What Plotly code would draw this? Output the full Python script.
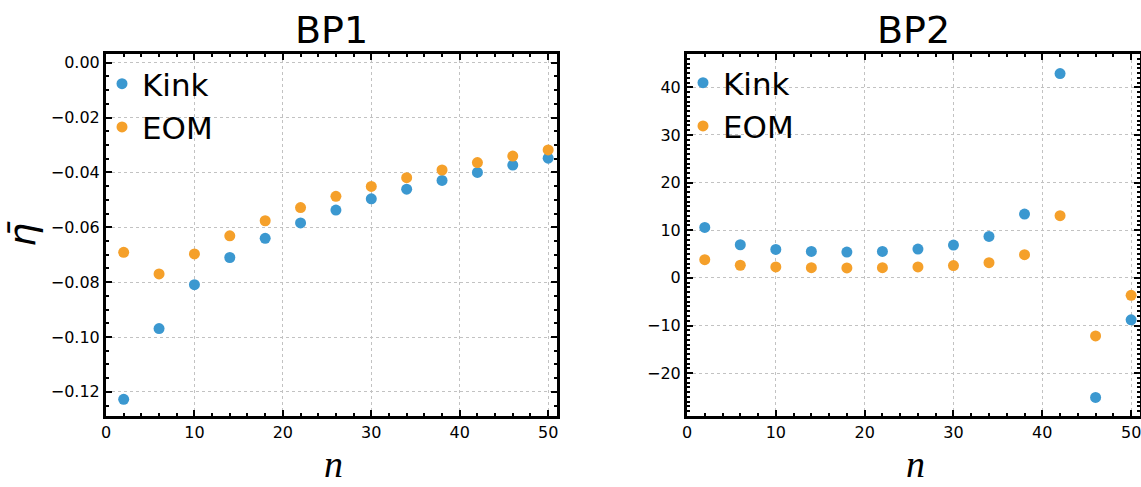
import plotly.graph_objects as go

W, H = 1141, 487

n_vals = [2, 6, 10, 14, 18, 22, 26, 30, 34, 38, 42, 46, 50]

bp1_kink = [-0.1227, -0.0969, -0.0809, -0.0710, -0.0640, -0.0584, -0.0537,
            -0.0496, -0.0461, -0.0429, -0.0400, -0.0373, -0.0348]
bp1_eom = [-0.0691, -0.0770, -0.0697, -0.0631, -0.0576, -0.0528, -0.0487,
           -0.0451, -0.0419, -0.0391, -0.0364, -0.0340, -0.0318]

bp2_kink = [10.6, 6.95, 5.98, 5.56, 5.42, 5.56, 6.04, 6.88, 8.69, 13.4, 42.9, -25.1, -8.8]
bp2_eom = [3.83, 2.65, 2.29, 2.15, 2.08, 2.15, 2.29, 2.58, 3.2, 4.86, 13.06, -12.2, -3.67]

titles = ["BP1", "BP2"]
series_names = ["Kink", "EOM"]
colors = ["#3b98d0", "#f5a02a"]

def px_x(p):
    return p / W

def px_y(p):
    return 1 - p / H

fig = go.Figure()

panels = [
    dict(kink=bp1_kink, eom=bp1_eom, xa="x", ya="y", legend="legend"),
    dict(kink=bp2_kink, eom=bp2_eom, xa="x2", ya="y2", legend="legend2"),
]
for i, p in enumerate(panels):
    for name, vals, col in [(series_names[0], p["kink"], colors[0]),
                            (series_names[1], p["eom"], colors[1])]:
        fig.add_trace(go.Scatter(
            x=n_vals, y=vals, mode="markers", name=name,
            marker=dict(size=11, color=col, line=dict(width=0)),
            xaxis=p["xa"], yaxis=p["ya"], legend=p["legend"],
        ))

tickfont = dict(family="DejaVu Sans", size=16, color="black")

def axis_common(dtick, minor_dtick, rng, domain, anchor, fmt=None):
    d = dict(
        range=rng, domain=domain, anchor=anchor,
        showline=True, linecolor="black", linewidth=3, mirror="allticks",
        ticks="inside", ticklen=6, tickwidth=2, tickcolor="black",
        dtick=dtick, tick0=0,
        minor=dict(dtick=minor_dtick, tick0=0, ticks="inside", ticklen=3,
                   tickwidth=2, tickcolor="black", showgrid=False),
        showgrid=True, gridcolor="#c2c2c2", gridwidth=1, griddash="dot",
        zeroline=False, tickfont=tickfont, automargin=False,
        ticklabeloverflow="allow",
    )
    if fmt:
        d["tickformat"] = fmt
    return d

ytop, ybot = 54, 416
legend_font = dict(family="DejaVu Sans", size=31, color="black")
yaxis1 = axis_common(0.02, 0.005, [-0.1288, 0.0032], [px_y(ybot), px_y(ytop)], "x", ".2f")
yaxis1["title"] = dict(text="<i>η\u0304</i>", standoff=13,
                       font=dict(family="DejaVu Sans", size=38, color="black"))

fig.update_layout(
    width=W, height=H,
    margin=dict(l=0, r=0, t=0, b=0),
    paper_bgcolor="white", plot_bgcolor="white",
    showlegend=True,
    xaxis=axis_common(10, 2, [0, 51], [px_x(106), px_x(557)], "y"),
    yaxis=yaxis1,
    xaxis2=axis_common(10, 2, [0, 51], [px_x(687), px_x(1140)], "y2"),
    yaxis2=axis_common(10, 1, [-29, 47], [px_y(ybot), px_y(ytop)], "x2"),
    legend=dict(x=px_x(102), y=px_y(57), xanchor="left", yanchor="top",
                bgcolor="rgba(0,0,0,0)", font=legend_font),
    legend2=dict(x=px_x(683), y=px_y(56), xanchor="left", yanchor="top",
                 bgcolor="rgba(0,0,0,0)", font=legend_font),
)

def ann(text, x, y, family, size, angle=0, yanchor="middle", xanchor="center"):
    return dict(text=text, x=px_x(x), y=px_y(y), xref="paper", yref="paper",
                xanchor=xanchor, yanchor=yanchor, showarrow=False,
                textangle=angle, font=dict(family=family, size=size, color="black"))

annotations = [
    ann(titles[0], 331.5, 30, "DejaVu Sans", 38),
    ann(titles[1], 913, 30, "DejaVu Sans", 38),
    ann("<i>n</i>", 333, 487, "Liberation Serif", 38, yanchor="bottom"),
    ann("<i>n</i>", 915, 487, "Liberation Serif", 38, yanchor="bottom"),
]
fig.update_layout(annotations=annotations)

fig.write_html("out.html")
